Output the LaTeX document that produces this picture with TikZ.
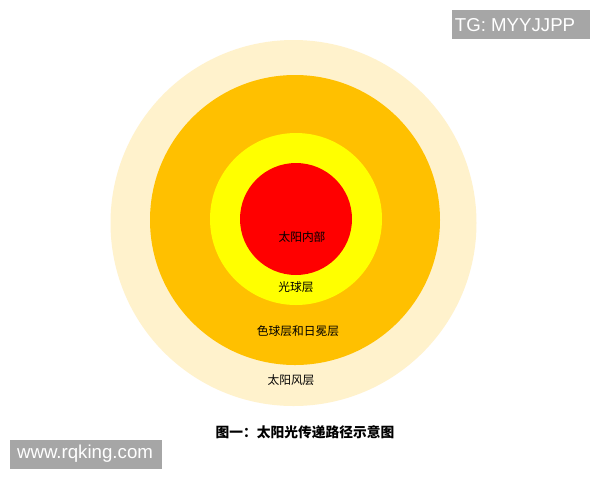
\documentclass[tikz,border=0pt]{standalone}
\usepackage{fontspec}
\setmainfont{Liberation Sans}
\newfontfamily\cjk{Noto Sans CJK SC}
\definecolor{cream}{HTML}{FFF2CC}
\definecolor{sunorange}{HTML}{FFC000}
\definecolor{sunyellow}{HTML}{FFFF00}
\definecolor{sunred}{HTML}{FF0000}
\definecolor{wmgray}{HTML}{A6A6A6}
\begin{document}
\begin{tikzpicture}[x=0.75pt,y=-0.75pt,
  layer/.style={circle,inner sep=0pt,draw=none},
  lbl/.style={font=\cjk\fontsize{8.8pt}{10pt}\selectfont,text=black,inner sep=0pt},
  wm/.style={fill=wmgray,text=white,font=\fontsize{14pt}{16pt}\selectfont,inner sep=0pt,anchor=north west}]
\useasboundingbox[fill=white] (0,0) rectangle (600,480);
\node[layer,fill=cream,minimum size=366*0.75pt] (wind) at (293.5,223) {};
\node[layer,fill=sunorange,minimum size=290*0.75pt] (chromo) at (295,220) {};
\node[layer,fill=sunyellow,minimum size=172*0.75pt] (photo) at (296,219) {};
\node[layer,fill=sunred,minimum size=112*0.75pt] (core) at (296,219) {};
\node[lbl] (tcore) at (302,237) {太阳内部};
\node[lbl] (tphoto) at (296,287) {光球层};
\node[lbl] (tchromo) at (298,331) {色球层和日冕层};
\node[lbl] (twind) at (291,380) {太阳风层};
\node[font=\cjk\bfseries\fontsize{10.3pt}{12pt}\selectfont,inner sep=0pt] (caption) at (305,432) {图一：太阳光传递路径示意图};
\path[fill=wmgray] (452,10) rectangle (590,39);
\node[text=white,font=\fontsize{14pt}{16pt}\selectfont,inner sep=0pt] (wm1) at (515,25) {TG: MYYJJPP};
\path[fill=wmgray] (10,440) rectangle (162,469);
\node[text=white,font=\fontsize{14pt}{16pt}\selectfont,inner sep=0pt] (wm2) at (85,454) {www.rqking.com};
\end{tikzpicture}
\end{document}
